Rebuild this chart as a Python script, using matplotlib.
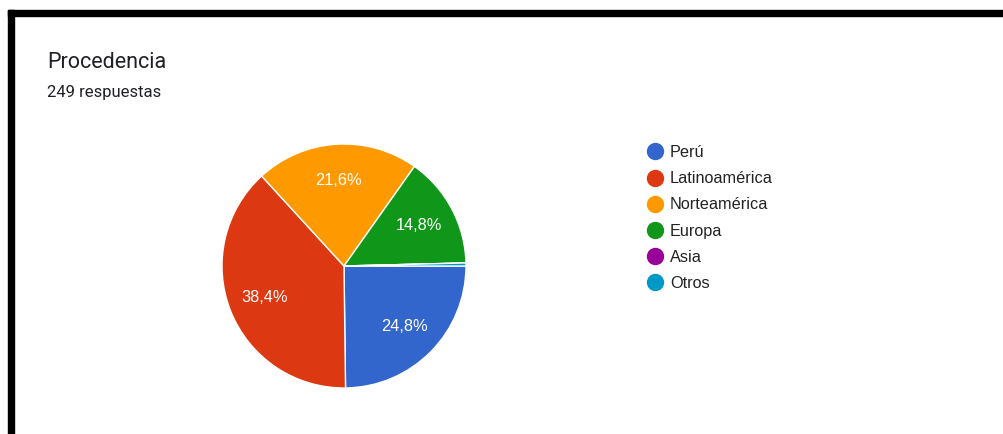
import matplotlib
matplotlib.use('Agg')
import matplotlib.pyplot as plt
from matplotlib.lines import Line2D
from matplotlib.patches import Rectangle

# data
categories = ['Perú', 'Latinoamérica', 'Norteamérica', 'Europa', 'Asia', 'Otros']
percents = [24.8, 38.4, 21.6, 14.8, 0.0, 0.4]
colors = ['#3366cc', '#dc3912', '#ff9900', '#109618', '#990099', '#0099c6']
title = 'Procedencia'
subtitle = '249 respuestas'

W, H = 1004, 434
fig = plt.figure(figsize=(W / 100, H / 100), dpi=100)
fig.patch.set_facecolor('white')

# black frame of the screenshot (top and left)
fig.patches.append(Rectangle((8 / W, 0), 6 / W, (H - 10) / H, transform=fig.transFigure,
                             color='black', zorder=5))
fig.patches.append(Rectangle((8 / W, (H - 16) / H), (W - 8) / W, 6 / H, transform=fig.transFigure,
                             color='black', zorder=5))

# pie, centre (344, 266) px, radius 122 px
cx, cy, r = 344, 266, 122
ax = fig.add_axes([(cx - r) / W, (H - cy - r) / H, 2 * r / W, 2 * r / H])
wedges, texts, autotexts = ax.pie(
    percents, colors=colors, startangle=0, counterclock=False,
    autopct=lambda p: ('%.1f%%' % p).replace('.', ',') if p > 5 else '',
    pctdistance=0.70,
    wedgeprops=dict(edgecolor='white', linewidth=1.0),
    textprops=dict(color='white', fontsize=11.8, family=['Liberation Sans', 'DejaVu Sans']))
ax.set_xlim(-1, 1)
ax.set_ylim(-1, 1)
ax.set_aspect('equal')

fig.text(47 / W, 1 - 62 / H, title, fontsize=15.5, color='#202124',
         family=['Roboto', 'DejaVu Sans'], va='center', ha='left')
fig.text(47 / W, 1 - 93 / H, subtitle, fontsize=12, color='#202124',
         family=['Roboto', 'DejaVu Sans'], va='center', ha='left')

handles = [Line2D([], [], marker='o', linestyle='none', markersize=11.5,
                  markerfacecolor=c, markeredgecolor=c) for c in colors]
leg = fig.legend(handles, categories, loc='upper left',
                 bbox_to_anchor=(647 / W, 1 - 145 / H), frameon=False,
                 handlelength=1.0, handletextpad=0.42, labelspacing=0.69,
                 borderaxespad=0, borderpad=0,
                 prop=dict(family=['Liberation Sans', 'DejaVu Sans'], size=11.7))
for t in leg.get_texts():
    t.set_color('#222222')

fig.savefig('out.png', dpi=100)
